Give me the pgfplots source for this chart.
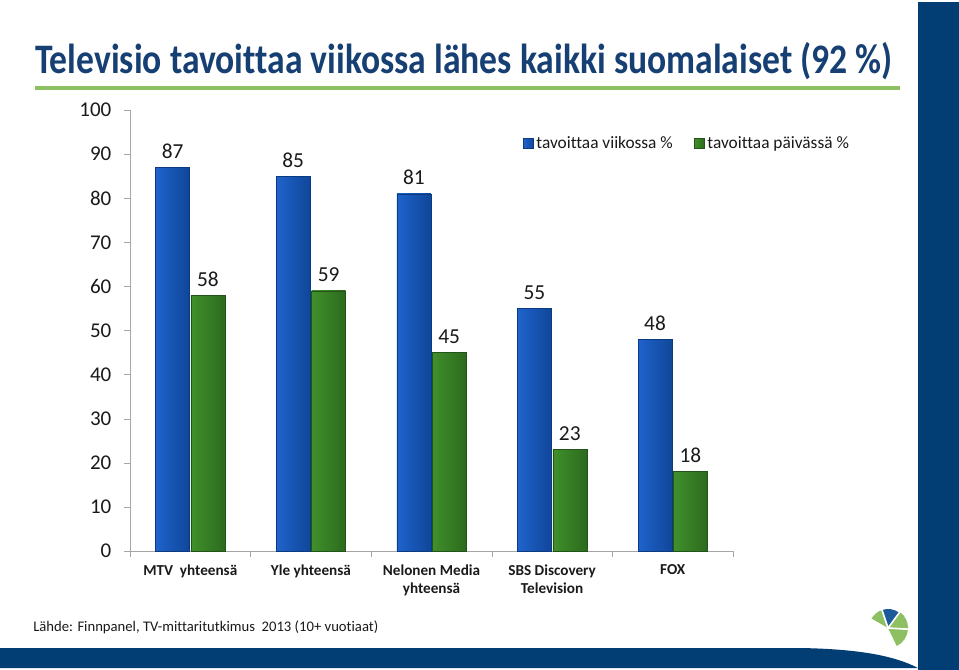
\documentclass[border=0pt]{standalone}
\usepackage{pgfplots}
\pgfplotsset{compat=1.18}
\usepackage{fontspec}
\setmainfont{Carlito}[Ligatures=NoCommon]
\definecolor{navy}{HTML}{023E74}
\definecolor{titleblue}{HTML}{163F73}
\definecolor{lgreen}{HTML}{8CC063}
\definecolor{logoblue}{HTML}{1D5A9A}
\definecolor{bluehi}{HTML}{1F63CC}
\definecolor{bluelo}{HTML}{0F4699}
\definecolor{blueline}{HTML}{0C3A80}
\definecolor{greenhi}{HTML}{40902B}
\definecolor{greenlo}{HTML}{2C6A1E}
\definecolor{greenline}{HTML}{22541A}
\definecolor{axgray}{HTML}{A6A6A6}
\definecolor{txt}{HTML}{1A1A1A}
\pgfplotsset{
  bblue/.style={ybar, bar shift=-13.25pt, draw=blueline, left color=bluehi, right color=bluelo,
    every node near coord/.append style={xshift=-13.25pt}},
  bgreen/.style={ybar, bar shift=13.25pt, draw=greenline, left color=greenhi, right color=greenlo,
    every node near coord/.append style={xshift=13.25pt}},
}
\begin{document}
\begin{tikzpicture}
\begin{scope}[x=0.75pt,y=-0.75pt]
\fill[white] (0,0) rectangle (959,670);
\useasboundingbox (0,0) rectangle (959,670);
\fill[navy] (918,2) rectangle (959,670);
\fill[navy] (0,648) -- (800,648) .. controls (860,649) and (895,656) .. (918,668) -- (0,668) -- cycle;
\draw[lgreen, line width=3pt] (35,88) -- (900,88);
\node[anchor=base west, inner sep=0pt, text=titleblue, font=\fontsize{31.5}{36}\selectfont\bfseries] at (35,74) {\scalebox{0.848}[1]{Televisio tavoittaa viikossa lähes kaikki suomalaiset (92~\%)}};
\node[anchor=base west, inner sep=0pt, text=txt, font=\fontsize{11}{14}\selectfont] at (33,631) {Lähde: Finnpanel, TV-mittaritutkimus\ \ 2013 (10+ vuotiaat)};
% logo
\begin{scope}[shift={(888,628)}, y=0.75pt]
\fill[lgreen] (0,0) -- (150:19) arc[start angle=150, end angle=110, radius=19] -- cycle;
\fill[logoblue] (0,0) -- (107:19) arc[start angle=107, end angle=55, radius=19] -- cycle;
\fill[lgreen] (0,0) -- (52:20) arc[start angle=52, end angle=-2, radius=20] -- cycle;
\fill[lgreen] (0,0) -- (-5:20) arc[start angle=-5, end angle=-64, radius=20] -- cycle;
\draw[white, line width=1.2pt] (0,0) -- (108.5:22) (0,0) -- (53.5:22) (0,0) -- (-3.5:22);
\end{scope}
\end{scope}
\begin{axis}[
  at={(97.5pt,-413.25pt)}, anchor=south west,
  scale only axis, width=452.25pt, height=330.75pt,
  bar width=25.5pt,
  xmin=-0.5, xmax=4.5, ymin=0, ymax=100,
  ytick={0,10,...,100},
  xtick={0,1,2,3,4},
  xticklabels={MTV\ \ yhteensä, Yle yhteensä, Nelonen Media\\yhteensä, SBS Discovery\\Television, FOX},
  extra x ticks={-0.5,0.5,1.5,2.5,3.5,4.5},
  extra x tick labels={},
  extra x tick style={xtick style={draw=axgray}},
  x tick label style={align=center, font=\fontsize{11.4}{13.5}\selectfont\bfseries, text=txt, yshift=-2pt},
  y tick label style={font=\fontsize{15.75}{18}\selectfont, text=txt, xshift=-6pt},
  /pgf/number format/assume math mode=true,
  axis x line=bottom, axis y line=left,
  axis line style={-, draw=axgray},
  tick align=outside,
  major tick length=4.5pt,
  ytick style={draw=axgray},
  xtick style={draw=none},
  nodes near coords,
  every node near coord/.append style={font=\fontsize{16}{18}\selectfont, text=txt, yshift=3pt},
  legend style={at={(axis description cs:0.645,0.925)}, anchor=west, draw=none, fill=none,
    font=\fontsize{13}{15}\selectfont, text=txt, legend columns=2,
    /tikz/every even column/.append style={column sep=14pt}},
  legend image code/.code={\fill[#1] (0pt,-3.75pt) rectangle (7.5pt,3.75pt);},
]
\addplot[bblue] coordinates {(0,87)};
\addplot[bgreen] coordinates {(0,58)};
\addplot[bblue, forget plot] coordinates {(1,85)};
\addplot[bblue, forget plot] coordinates {(2,81)};
\addplot[bblue, forget plot] coordinates {(3,55)};
\addplot[bblue, forget plot] coordinates {(4,48)};
\addplot[bgreen, forget plot] coordinates {(1,59)};
\addplot[bgreen, forget plot] coordinates {(2,45)};
\addplot[bgreen, forget plot] coordinates {(3,23)};
\addplot[bgreen, forget plot] coordinates {(4,18)};
\legend{tavoittaa viikossa \%, tavoittaa päivässä \%}
\end{axis}
\end{tikzpicture}
\end{document}
